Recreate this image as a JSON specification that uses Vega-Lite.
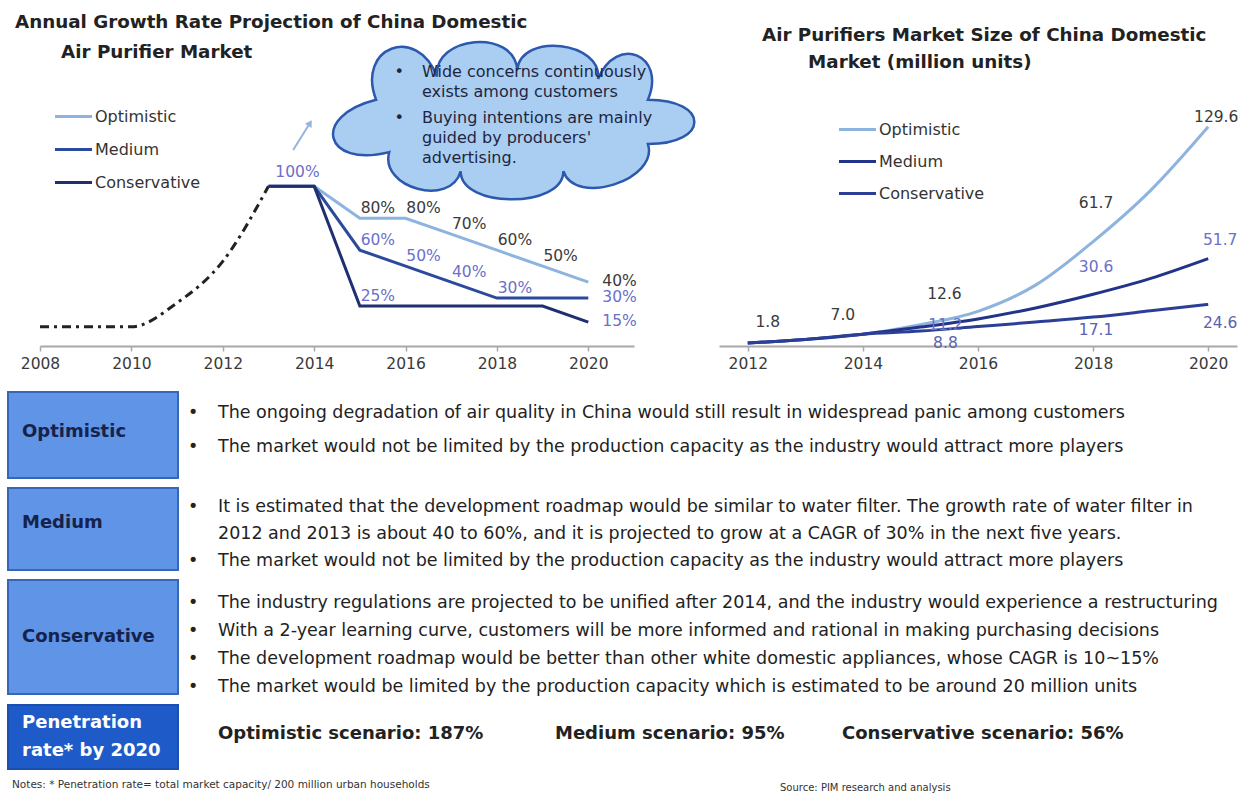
{
  "$schema": "https://vega.github.io/schema/vega-lite/v6.json",
  "padding": {"left": 7, "top": 12, "right": 0, "bottom": 0},
  "background": "white",
  "config": {
    "view": {"stroke": null},
    "font": "DejaVu Sans",
    "axis": {"labelFont": "DejaVu Sans"},
    "legend": {"labelFont": "DejaVu Sans"},
    "title": {"font": "DejaVu Sans"},
    "text": {"font": "DejaVu Sans"}
  },
  "datasets": {
    "history": [
      {"year": 2008, "value": 0.12},
      {"year": 2009, "value": 0.12},
      {"year": 2010, "value": 0.12},
      {"year": 2011, "value": 0.27},
      {"year": 2012, "value": 0.53},
      {"year": 2013, "value": 1.0}
    ],
    "growth": [
      {"series": "Optimistic", "year": 2014, "value": 1.0},
      {"series": "Optimistic", "year": 2015, "value": 0.8},
      {"series": "Optimistic", "year": 2016, "value": 0.8},
      {"series": "Optimistic", "year": 2017, "value": 0.7},
      {"series": "Optimistic", "year": 2018, "value": 0.6},
      {"series": "Optimistic", "year": 2019, "value": 0.5},
      {"series": "Optimistic", "year": 2020, "value": 0.4},
      {"series": "Medium", "year": 2013, "value": 1.0},
      {"series": "Medium", "year": 2014, "value": 1.0},
      {"series": "Medium", "year": 2015, "value": 0.6},
      {"series": "Medium", "year": 2016, "value": 0.5},
      {"series": "Medium", "year": 2017, "value": 0.4},
      {"series": "Medium", "year": 2018, "value": 0.3},
      {"series": "Medium", "year": 2019, "value": 0.3},
      {"series": "Medium", "year": 2020, "value": 0.3},
      {"series": "Conservative", "year": 2013, "value": 1.0},
      {"series": "Conservative", "year": 2014, "value": 1.0},
      {"series": "Conservative", "year": 2015, "value": 0.25},
      {"series": "Conservative", "year": 2016, "value": 0.25},
      {"series": "Conservative", "year": 2017, "value": 0.25},
      {"series": "Conservative", "year": 2018, "value": 0.25},
      {"series": "Conservative", "year": 2019, "value": 0.25},
      {"series": "Conservative", "year": 2020, "value": 0.15}
    ],
    "size": [
      {"series": "Optimistic", "year": 2012, "value": 1.8},
      {"series": "Optimistic", "year": 2013, "value": 3.9},
      {"series": "Optimistic", "year": 2014, "value": 7.0},
      {"series": "Optimistic", "year": 2015, "value": 12.6},
      {"series": "Optimistic", "year": 2016, "value": 20.5},
      {"series": "Optimistic", "year": 2017, "value": 36.0},
      {"series": "Optimistic", "year": 2018, "value": 61.7},
      {"series": "Optimistic", "year": 2019, "value": 92.0},
      {"series": "Optimistic", "year": 2020, "value": 129.6},
      {"series": "Medium", "year": 2012, "value": 1.8},
      {"series": "Medium", "year": 2013, "value": 3.9},
      {"series": "Medium", "year": 2014, "value": 7.0},
      {"series": "Medium", "year": 2015, "value": 11.2},
      {"series": "Medium", "year": 2016, "value": 16.0},
      {"series": "Medium", "year": 2017, "value": 22.5},
      {"series": "Medium", "year": 2018, "value": 30.6},
      {"series": "Medium", "year": 2019, "value": 40.0},
      {"series": "Medium", "year": 2020, "value": 51.7},
      {"series": "Conservative", "year": 2012, "value": 1.8},
      {"series": "Conservative", "year": 2013, "value": 3.9},
      {"series": "Conservative", "year": 2014, "value": 7.0},
      {"series": "Conservative", "year": 2015, "value": 8.8},
      {"series": "Conservative", "year": 2016, "value": 11.5},
      {"series": "Conservative", "year": 2017, "value": 14.2},
      {"series": "Conservative", "year": 2018, "value": 17.1},
      {"series": "Conservative", "year": 2019, "value": 20.8},
      {"series": "Conservative", "year": 2020, "value": 24.6}
    ],
    "bullets": [
      {"section": "Optimistic", "line": 1, "bullet": true, "text": "The ongoing degradation of air quality in China would still result in widespread panic among customers"},
      {"section": "Optimistic", "line": 2, "bullet": true, "text": "The market would not be limited by the production capacity as the industry would attract more players"},
      {"section": "Medium", "line": 1, "bullet": true, "text": "It is estimated that the development roadmap would be similar to water filter. The growth rate of water filter in"},
      {"section": "Medium", "line": 2, "bullet": false, "text": "2012 and 2013 is about 40 to 60%, and it is projected to grow at a CAGR of 30% in the next five years."},
      {"section": "Medium", "line": 3, "bullet": true, "text": "The market would not be limited by the production capacity as the industry would attract more players"},
      {"section": "Conservative", "line": 1, "bullet": true, "text": "The industry regulations are projected to be unified after 2014, and the industry would experience a restructuring"},
      {"section": "Conservative", "line": 2, "bullet": true, "text": "With a 2-year learning curve, customers will be more informed and rational in making purchasing decisions"},
      {"section": "Conservative", "line": 3, "bullet": true, "text": "The development roadmap would be better than other white domestic appliances, whose CAGR is 10~15%"},
      {"section": "Conservative", "line": 4, "bullet": true, "text": "The market would be limited by the production capacity which is estimated to be around 20 million units"}
    ]
  },
  "spacing": 19,
  "vconcat": [
    {
      "bounds": "flush",
      "spacing": 0,
      "hconcat": [
        {
          "width": 32, "height": 230,
          "view": {"fill": "#ffffff", "stroke": null},
          "data": {"values": [{}]},
          "mark": {"type": "point", "opacity": 0}
        },
        {
          "bounds": "flush",
          "spacing": 85,
          "resolve": {"scale": {"color": "independent", "fill": "independent"}, "legend": {"color": "independent", "fill": "independent"}},
          "hconcat": [
            {
              "width": 594, "height": 230,
              "title": {"text": ["Annual Growth Rate Projection of China Domestic", "\u2800\u00a0\u00a0\u00a0\u00a0\u00a0Air Purifier Market"], "anchor": "start", "frame": "group", "dx": -25, "offset": -25, "fontSize": 18.3, "fontWeight": "bold", "lineHeight": 30, "color": "#222222"},
              "layer": [
                {
                  "data": {"name": "history"},
                  "mark": {"type": "line", "interpolate": "monotone", "color": "#222222", "strokeWidth": 3, "strokeDash": [9, 5, 3, 5]},
                  "encoding": {
                    "x": {"field": "year", "type": "quantitative", "scale": {"domain": [2008, 2021], "nice": false, "zero": false},
                      "axis": {"values": [2008, 2010, 2012, 2014, 2016, 2018, 2020], "format": "d", "title": null, "grid": false, "domainColor": "#a8a8a8", "domainWidth": 2, "tickColor": "#a8a8a8", "tickWidth": 1.5, "tickSize": 5, "labelFontSize": 15.5, "labelColor": "#3a3a3a", "labelPadding": 5, "labelFlush": false, "labelOverlap": false}},
                    "y": {"field": "value", "type": "quantitative", "scale": {"domain": [0, 1.44], "nice": false, "zero": false}, "axis": null}
                  }
                },
                {
                  "data": {"name": "growth"},
                  "mark": {"type": "line", "strokeWidth": 3},
                  "encoding": {
                    "x": {"field": "year", "type": "quantitative"},
                    "y": {"field": "value", "type": "quantitative", "axis": null},
                    "color": {"field": "series", "type": "nominal", "sort": null,
                      "scale": {"domain": ["Optimistic", "Medium", "Conservative"], "range": ["#8db3df", "#2b4a9c", "#1f2f72"]},
                      "legend": {"orient": "none", "legendX": 22, "legendY": -11, "title": null, "padding": 0, "symbolType": "M-1.85,0H1.85", "symbolSize": 400, "symbolStrokeWidth": 3, "labelFontSize": 16, "labelColor": "#333333", "labelOffset": 10, "rowPadding": 13}}
                  }
                },
                {
                  "data": {"name": "growth"},
                  "transform": [{"filter": "(datum.series == 'Optimistic' && datum.year >= 2015) || (datum.series == 'Medium' && datum.year >= 2015 && datum.year != 2019) || (datum.series == 'Conservative' && (datum.year == 2013 || datum.year == 2015 || datum.year == 2020))"}],
                  "encoding": {
                    "x": {"field": "year", "type": "quantitative"},
                    "y": {"field": "value", "type": "quantitative", "axis": null},
                    "text": {"field": "value", "type": "quantitative", "format": ".0%"},
                    "fill": {"field": "series", "type": "nominal", "scale": {"domain": ["Optimistic", "Medium", "Conservative"], "range": ["#3a3a3a", "#6b70c8", "#6b70c8"]}, "legend": null}
                  },
                  "layer": [
                    {"transform": [{"filter": "datum.year > 2014 && datum.year < 2020"}], "mark": {"type": "text", "fontSize": 15.5, "dx": 18, "dy": -10}},
                    {"transform": [{"filter": "datum.year == 2020"}], "mark": {"type": "text", "fontSize": 15.5, "align": "left", "dx": 14, "dy": -1}},
                    {"transform": [{"filter": "datum.year == 2013"}], "mark": {"type": "text", "fontSize": 15.5, "dx": 29, "dy": -14}}
                  ]
                },
                {
                  "data": {"values": [{}]},
                  "mark": {"type": "rule", "color": "#93b4dc", "strokeWidth": 2},
                  "encoding": {
                    "x": {"datum": 2013.54, "type": "quantitative"},
                    "y": {"datum": 1.227, "type": "quantitative", "axis": null},
                    "x2": {"datum": 2013.91},
                    "y2": {"datum": 1.396}
                  }
                },
                {
                  "data": {"values": [{}]},
                  "mark": {"type": "point", "shape": "triangle-up", "filled": true, "color": "#93b4dc", "size": 60, "angle": 32, "opacity": 1},
                  "encoding": {
                    "x": {"datum": 2013.91, "type": "quantitative"},
                    "y": {"datum": 1.396, "type": "quantitative", "axis": null}
                  }
                },
                {
                  "data": {"values": [{}]},
                  "mark": {"type": "point", "shape": "M-0.655,0.161C-1.004,0.248,-1.074,-0.031,-0.725,-0.118C-0.832,-0.398,-0.507,-0.522,-0.4,-0.242C-0.419,-0.461,0.009,-0.499,0.028,-0.28C0.052,-0.479,0.483,-0.428,0.459,-0.229C0.559,-0.469,0.825,-0.358,0.725,-0.118C1.055,-0.118,1.055,0.118,0.725,0.118C0.786,0.308,0.335,0.453,0.274,0.263C0.274,0.463,-0.274,0.463,-0.274,0.263C-0.326,0.456,-0.707,0.354,-0.655,0.161Z", "size": 140625, "filled": true, "fill": "#a9cef2", "stroke": "#2c58ad", "strokeWidth": 2.5, "opacity": 1, "fillOpacity": 1, "strokeOpacity": 1},
                  "encoding": {
                    "x": {"datum": 2018.33, "type": "quantitative"},
                    "y": {"datum": 1.403, "type": "quantitative", "axis": null}
                  }
                },
                {
                  "data": {"values": [{}]},
                  "mark": {"type": "text", "align": "center", "baseline": "top", "fontSize": 16, "color": "#1f2540", "text": "•"},
                  "encoding": {"x": {"datum": 2015.86, "type": "quantitative"}, "y": {"datum": 1.766, "type": "quantitative", "axis": null}}
                },
                {
                  "data": {"values": [{}]},
                  "mark": {"type": "text", "align": "center", "baseline": "top", "fontSize": 16, "color": "#1f2540", "text": "•"},
                  "encoding": {"x": {"datum": 2015.86, "type": "quantitative"}, "y": {"datum": 1.478, "type": "quantitative", "axis": null}}
                },
                {
                  "data": {"values": [{}]},
                  "mark": {"type": "text", "align": "left", "baseline": "top", "fontSize": 16, "lineHeight": 20, "color": "#1f2540", "text": ["Wide concerns continuously", "exists among customers"]},
                  "encoding": {"x": {"datum": 2016.36, "type": "quantitative"}, "y": {"datum": 1.766, "type": "quantitative", "axis": null}}
                },
                {
                  "data": {"values": [{}]},
                  "mark": {"type": "text", "align": "left", "baseline": "top", "fontSize": 16, "lineHeight": 20, "color": "#1f2540", "text": ["Buying intentions are mainly", "guided by producers'", "advertising."]},
                  "encoding": {"x": {"datum": 2016.36, "type": "quantitative"}, "y": {"datum": 1.478, "type": "quantitative", "axis": null}}
                }
              ]
            },
            {
              "width": 518, "height": 230,
              "title": {"text": ["Air Purifiers Market Size of China Domestic", "\u2800\u00a0\u00a0\u00a0\u00a0\u00a0Market (million units)"], "anchor": "start", "frame": "group", "dx": 43, "offset": 38, "fontSize": 18.3, "fontWeight": "bold", "lineHeight": 27, "color": "#222222"},
              "layer": [
                {
                  "data": {"name": "size"},
                  "mark": {"type": "line", "interpolate": "monotone", "strokeWidth": 3},
                  "encoding": {
                    "x": {"field": "year", "type": "quantitative", "scale": {"domain": [2011.5, 2020.5], "nice": false, "zero": false},
                      "axis": {"values": [2012, 2014, 2016, 2018, 2020], "format": "d", "title": null, "grid": false, "domainColor": "#a8a8a8", "domainWidth": 2, "tickColor": "#a8a8a8", "tickWidth": 1.5, "tickSize": 5, "labelFontSize": 15.5, "labelColor": "#3a3a3a", "labelPadding": 5, "labelFlush": false, "labelOverlap": false}},
                    "y": {"field": "value", "type": "quantitative", "scale": {"domain": [0, 136], "nice": false, "zero": false}, "axis": null},
                    "color": {"field": "series", "type": "nominal", "sort": null,
                      "scale": {"domain": ["Optimistic", "Medium", "Conservative"], "range": ["#8db3df", "#22338a", "#2c3f96"]},
                      "legend": {"orient": "none", "legendX": 127, "legendY": 2, "title": null, "padding": 0, "symbolType": "M-1.85,0H1.85", "symbolSize": 400, "symbolStrokeWidth": 3, "labelFontSize": 16, "labelColor": "#333333", "labelOffset": 10, "rowPadding": 12}}
                  }
                },
                {
                  "data": {"name": "size"},
                  "transform": [{"filter": "((datum.year == 2012 || datum.year == 2014) && datum.series == 'Optimistic') || datum.year == 2015 || datum.year == 2018 || datum.year == 2020"}],
                  "encoding": {
                    "x": {"field": "year", "type": "quantitative"},
                    "y": {"field": "value", "type": "quantitative", "axis": null},
                    "text": {"field": "value", "type": "quantitative", "format": ".1f"},
                    "fill": {"field": "series", "type": "nominal", "scale": {"domain": ["Optimistic", "Medium", "Conservative"], "range": ["#3a3a3a", "#6b70c8", "#5a63b0"]}, "legend": null}
                  },
                  "layer": [
                    {"transform": [{"filter": "datum.year == 2012"}], "mark": {"type": "text", "fontSize": 15.5, "dx": 20, "dy": -21}},
                    {"transform": [{"filter": "datum.year == 2014"}], "mark": {"type": "text", "fontSize": 15.5, "dx": -20, "dy": -19}},
                    {"transform": [{"filter": "datum.year == 2015 && datum.series == 'Optimistic'"}], "mark": {"type": "text", "fontSize": 15.5, "dx": 24, "dy": -31}},
                    {"transform": [{"filter": "datum.year == 2015 && datum.series == 'Medium'"}], "mark": {"type": "text", "fontSize": 15.5, "dx": 25, "dy": -2}},
                    {"transform": [{"filter": "datum.year == 2015 && datum.series == 'Conservative'"}], "mark": {"type": "text", "fontSize": 15.5, "dx": 25, "dy": 12}},
                    {"transform": [{"filter": "datum.year == 2018 && datum.series == 'Optimistic'"}], "mark": {"type": "text", "fontSize": 15.5, "dx": 3, "dy": -39}},
                    {"transform": [{"filter": "datum.year == 2018 && datum.series == 'Medium'"}], "mark": {"type": "text", "fontSize": 15.5, "dx": 3, "dy": -27}},
                    {"transform": [{"filter": "datum.year == 2018 && datum.series == 'Conservative'"}], "mark": {"type": "text", "fontSize": 15.5, "dx": 3, "dy": 13}},
                    {"transform": [{"filter": "datum.year == 2020 && datum.series == 'Optimistic'"}], "mark": {"type": "text", "fontSize": 15.5, "dx": 8, "dy": -10}},
                    {"transform": [{"filter": "datum.year == 2020 && datum.series == 'Medium'"}], "mark": {"type": "text", "fontSize": 15.5, "dx": 12, "dy": -19}},
                    {"transform": [{"filter": "datum.year == 2020 && datum.series == 'Conservative'"}], "mark": {"type": "text", "fontSize": 15.5, "dx": 12, "dy": 19}}
                  ]
                }
              ]
            }
          ]
        }
      ]
    },
    {
      "spacing": 8,
      "vconcat": [
        {
          "bounds": "flush",
          "spacing": 10,
          "hconcat": [
            {
              "width": 170, "height": 86,
              "view": {"fill": "#5f94e6", "stroke": "#3567b8", "strokeWidth": 2},
              "data": {"values": [{"label": "Optimistic"}]},
              "mark": {"type": "text", "align": "left", "baseline": "middle", "fontSize": 18, "fontWeight": "bold", "color": "#17224a", "dy": -3},
              "encoding": {"x": {"value": 14}, "text": {"field": "label"}}
            },
            {
              "width": 1039, "height": 86,
              "data": {"name": "bullets"},
              "transform": [{"filter": "datum.section == 'Optimistic'"}],
              "encoding": {"y": {"field": "line", "type": "ordinal", "scale": {"type": "point", "range": [21, 55], "padding": 0}, "axis": null}},
              "layer": [
                {"transform": [{"filter": "datum.bullet"}], "mark": {"type": "text", "align": "left", "baseline": "middle", "fontSize": 17.5, "color": "#222222", "text": "•"}, "encoding": {"x": {"value": 0}}},
                {"mark": {"type": "text", "align": "left", "baseline": "middle", "fontSize": 17.5, "color": "#222222"}, "encoding": {"x": {"value": 30}, "text": {"field": "text"}}}
              ]
            }
          ]
        },
        {
          "bounds": "flush",
          "spacing": 10,
          "hconcat": [
            {
              "width": 170, "height": 82,
              "view": {"fill": "#5f94e6", "stroke": "#3567b8", "strokeWidth": 2},
              "data": {"values": [{"label": "Medium"}]},
              "mark": {"type": "text", "align": "left", "baseline": "middle", "fontSize": 18, "fontWeight": "bold", "color": "#17224a", "dy": -6},
              "encoding": {"x": {"value": 14}, "text": {"field": "label"}}
            },
            {
              "width": 1039, "height": 82,
              "data": {"name": "bullets"},
              "transform": [{"filter": "datum.section == 'Medium'"}],
              "encoding": {"y": {"field": "line", "type": "ordinal", "scale": {"type": "point", "range": [19, 73], "padding": 0}, "axis": null}},
              "layer": [
                {"transform": [{"filter": "datum.bullet"}], "mark": {"type": "text", "align": "left", "baseline": "middle", "fontSize": 17.5, "color": "#222222", "text": "•"}, "encoding": {"x": {"value": 0}}},
                {"mark": {"type": "text", "align": "left", "baseline": "middle", "fontSize": 17.5, "color": "#222222"}, "encoding": {"x": {"value": 30}, "text": {"field": "text"}}}
              ]
            }
          ]
        },
        {
          "bounds": "flush",
          "spacing": 10,
          "hconcat": [
            {
              "width": 170, "height": 114,
              "view": {"fill": "#5f94e6", "stroke": "#3567b8", "strokeWidth": 2},
              "data": {"values": [{"label": "Conservative"}]},
              "mark": {"type": "text", "align": "left", "baseline": "middle", "fontSize": 18, "fontWeight": "bold", "color": "#17224a"},
              "encoding": {"x": {"value": 14}, "text": {"field": "label"}}
            },
            {
              "width": 1039, "height": 114,
              "data": {"name": "bullets"},
              "transform": [{"filter": "datum.section == 'Conservative'"}],
              "encoding": {"y": {"field": "line", "type": "ordinal", "scale": {"type": "point", "range": [23, 107], "padding": 0}, "axis": null}},
              "layer": [
                {"transform": [{"filter": "datum.bullet"}], "mark": {"type": "text", "align": "left", "baseline": "middle", "fontSize": 17.5, "color": "#222222", "text": "•"}, "encoding": {"x": {"value": 0}}},
                {"mark": {"type": "text", "align": "left", "baseline": "middle", "fontSize": 17.5, "color": "#222222"}, "encoding": {"x": {"value": 30}, "text": {"field": "text"}}}
              ]
            }
          ]
        },
        {
          "bounds": "flush",
          "spacing": 10,
          "hconcat": [
            {
              "width": 170, "height": 64,
              "view": {"fill": "#1f5bc8", "stroke": "#1a4fb0", "strokeWidth": 2},
              "data": {"values": [{}]},
              "mark": {"type": "text", "align": "left", "baseline": "middle", "dy": -14, "fontSize": 18, "fontWeight": "bold", "lineHeight": 28, "color": "#ffffff", "text": ["Penetration", "rate* by 2020"]},
              "encoding": {"x": {"value": 14}}
            },
            {
              "width": 1039, "height": 64,
              "data": {"values": [{"scenario": "Optimistic", "text": "Optimistic scenario: 187%"}, {"scenario": "Medium", "text": "Medium scenario: 95%"}, {"scenario": "Conservative", "text": "Conservative scenario: 56%"}]},
              "layer": [
                {"transform": [{"filter": "datum.scenario == 'Optimistic'"}], "mark": {"type": "text", "align": "left", "baseline": "middle", "fontSize": 18, "fontWeight": "bold", "color": "#222222", "dy": -3}, "encoding": {"x": {"value": 30}, "text": {"field": "text"}}},
                {"transform": [{"filter": "datum.scenario == 'Medium'"}], "mark": {"type": "text", "align": "left", "baseline": "middle", "fontSize": 18, "fontWeight": "bold", "color": "#222222", "dy": -3}, "encoding": {"x": {"value": 367}, "text": {"field": "text"}}},
                {"transform": [{"filter": "datum.scenario == 'Conservative'"}], "mark": {"type": "text", "align": "left", "baseline": "middle", "fontSize": 18, "fontWeight": "bold", "color": "#222222", "dy": -3}, "encoding": {"x": {"value": 654}, "text": {"field": "text"}}}
              ]
            }
          ]
        },
        {
          "width": 1229, "height": 14,
          "data": {"values": [{"kind": "note", "text": "Notes: * Penetration rate= total market capacity/ 200 million urban households"}, {"kind": "source", "text": "Source: PIM research and analysis"}]},
          "layer": [
            {"transform": [{"filter": "datum.kind == 'note'"}], "mark": {"type": "text", "align": "left", "baseline": "middle", "fontSize": 10.5, "color": "#333333"}, "encoding": {"x": {"value": 4}, "text": {"field": "text"}}},
            {"transform": [{"filter": "datum.kind == 'source'"}], "mark": {"type": "text", "align": "left", "baseline": "middle", "fontSize": 10, "color": "#333333", "dy": 3}, "encoding": {"x": {"value": 772}, "text": {"field": "text"}}}
          ]
        }
      ]
    }
  ]
}
